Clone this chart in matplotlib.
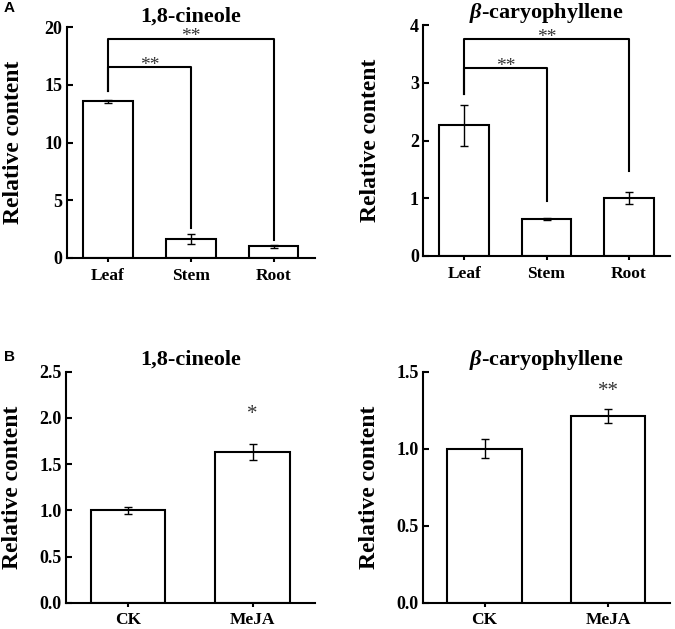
import numpy as np
import matplotlib
matplotlib.use('Agg')
import matplotlib.pyplot as plt

plt.rcParams['font.family'] = 'Liberation Serif'
plt.rcParams['font.weight'] = 'bold'
plt.rcParams['mathtext.fontset'] = 'custom'
plt.rcParams['mathtext.it'] = 'Liberation Serif:italic:bold'
plt.rcParams['mathtext.rm'] = 'Liberation Serif:bold'

# data
tissues = ['Leaf', 'Stem', 'Root']
cineole_tissue = [13.55, 1.65, 1.0]
cineole_tissue_err = [0.15, 0.4, 0.1]
caryo_tissue = [2.26, 0.635, 1.0]
caryo_tissue_err = [0.36, 0.02, 0.1]

treatments = ['CK', 'MeJA']
cineole_meja = [1.0, 1.63]
cineole_meja_err = [0.035, 0.085]
caryo_meja = [1.0, 1.213]
caryo_meja_err = [0.06, 0.045]

# significance brackets: (from, to, bracket height, left foot, right foot, label)
cineole_brackets = [(0, 1, 16.5, 14.5, 2.6, '**'), (0, 2, 19.0, 14.5, 1.55, '**')]
caryo_brackets = [(0, 1, 3.25, 2.8, 0.95, '**'), (0, 2, 3.75, 2.8, 1.47, '**')]
cineole_meja_star = '*'
caryo_meja_star = '**'

W, H = 675, 629
fig = plt.figure(figsize=(W/100, H/100), dpi=100)

def px_axes(x0, y0, x1, y1):
    return fig.add_axes([x0/W, 1-y1/H, (x1-x0)/W, (y1-y0)/H])

def style(ax, title, ylim, yticks, yfmt, tpad=5):
    ax.set_ylim(*ylim)
    ax.set_yticks(yticks)
    ax.set_yticklabels([yfmt % v for v in yticks])
    for s in ['top', 'right']:
        ax.spines[s].set_visible(False)
    for s in ['left', 'bottom']:
        ax.spines[s].set_linewidth(1.5)
    ax.tick_params(axis='y', direction='in', length=4, width=1.5, labelsize=13, pad=3)
    ax.tick_params(axis='x', direction='out', length=3, width=1.5, labelsize=12.5, pad=4)
    ax.set_ylabel('Relative content', fontsize=17, fontweight='bold')
    ax.yaxis.set_label_coords(-0.172, 0.5)
    ax.set_title(title, fontsize=16, fontweight='bold', pad=tpad)

def bars(ax, cats, vals, errs):
    x = np.arange(len(cats))
    ax.bar(x, vals, width=0.6, color='white', edgecolor='black', linewidth=1.5,
           yerr=errs, capsize=3, error_kw=dict(elinewidth=1, capthick=1, ecolor='black'))
    ax.set_xticks(x)
    ax.set_xticklabels(cats)
    ax.set_xlim(-0.5, len(cats)-0.5)

def brackets(ax, specs, off):
    for i, j, h, fl, fr, lab in specs:
        ax.plot([i, i, j, j], [fl, h, h, fr], color='black', lw=1.5)
        ax.text((i+j)/2, h+off, lab, ha='center', va='bottom', fontsize=14,
                fontweight='normal', color='#333333')

# A left
ax1 = px_axes(66.7, 27, 315, 258)
bars(ax1, tissues, cineole_tissue, cineole_tissue_err)
style(ax1, '1,8-cineole', (0, 20), [0, 5, 10, 15, 20], '%d', tpad=4)
brackets(ax1, cineole_brackets, -0.55)

# A right
ax2 = px_axes(423, 25, 670, 256)
bars(ax2, tissues, caryo_tissue, caryo_tissue_err)
style(ax2, r'$\beta$-caryophyllene', (0, 4), [0, 1, 2, 3, 4], '%d', tpad=3)
brackets(ax2, caryo_brackets, -0.11)

# B left
ax3 = px_axes(65.7, 371.7, 315, 602.7)
bars(ax3, treatments, cineole_meja, cineole_meja_err)
style(ax3, '1,8-cineole', (0, 2.5), [0, 0.5, 1.0, 1.5, 2.0, 2.5], '%.1f')
ax3.text(1, 2.04, cineole_meja_star, ha='center', va='center', fontsize=15,
         fontweight='normal', color='#333333')

# B right
ax4 = px_axes(422.7, 371.7, 670, 602.7)
bars(ax4, treatments, caryo_meja, caryo_meja_err)
style(ax4, r'$\beta$-caryophyllene', (0, 1.5), [0, 0.5, 1.0, 1.5], '%.1f')
ax4.text(1, 1.37, caryo_meja_star, ha='center', va='center', fontsize=15,
         fontweight='normal', color='#333333')

fig.text(4/W, 1-8/H, 'A', fontsize=11, fontweight='bold', family='Liberation Sans', va='center')
fig.text(4/W, 1-357/H, 'B', fontsize=11, fontweight='bold', family='Liberation Sans', va='center')

fig.savefig('out.png', dpi=100)
